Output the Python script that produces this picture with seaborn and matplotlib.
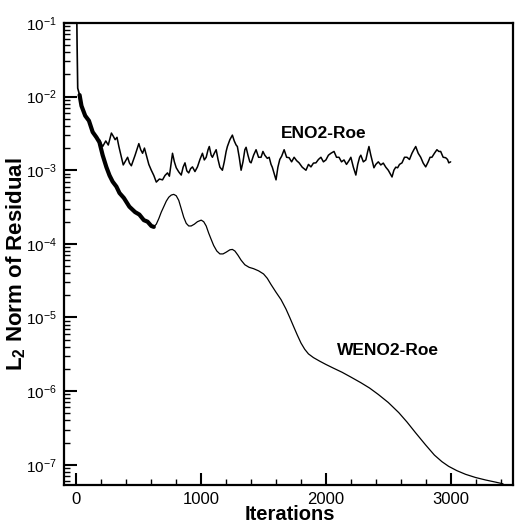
import numpy as np
import pandas as pd
import matplotlib
matplotlib.use("Agg")
import matplotlib.pyplot as plt
import matplotlib.ticker as mticker
import seaborn as sns

# common start: steep initial drop (thin)
start_iter = [0, 5, 10, 25]
start_res = [0.3, 0.05, 0.013, 0.0105]

# WENO2-Roe, noisy start (drawn as a thick band)
weno_noisy_iter = [25, 40, 70, 100, 130, 160, 184, 210, 240, 265, 290,
                   320, 345, 380, 424, 470, 504, 540, 570, 600, 620]
weno_noisy_res = [0.0105, 0.0075, 0.0055, 0.0047, 0.0033, 0.0028,
                  0.0024, 0.0016, 0.0011, 8.5e-4, 7e-4, 6e-4, 4.9e-4, 4.2e-4, 3.2e-4,
                  2.7e-4, 2.5e-4, 2.1e-4, 2.0e-4, 1.75e-4, 1.7e-4]

# WENO2-Roe, smooth part
weno_iter = [620, 640, 660, 680, 700, 720, 740, 760, 780, 800, 820, 840, 860, 880,
             900, 920, 945, 970, 1000, 1020, 1040, 1060, 1080, 1100, 1125, 1150, 1175,
             1200, 1230, 1250, 1270, 1295, 1320, 1350, 1384, 1420, 1460, 1500, 1530,
             1560, 1600, 1640, 1680, 1710, 1740, 1770, 1800, 1830, 1860, 1900, 1950,
             2000, 2060, 2130, 2200, 2280, 2350, 2420, 2500, 2584, 2650, 2720, 2800,
             2870, 2930, 2984, 3050, 3120, 3200, 3280, 3360, 3420]
weno_res = [1.7e-4, 1.85e-4, 2.2e-4, 2.7e-4, 3.2e-4, 3.8e-4, 4.3e-4, 4.6e-4, 4.7e-4,
            4.5e-4, 3.9e-4, 3.0e-4, 2.3e-4, 1.9e-4, 1.75e-4, 1.75e-4, 1.85e-4, 2.0e-4,
            2.1e-4, 2.0e-4, 1.75e-4, 1.4e-4, 1.15e-4, 9.5e-5, 8e-5, 7.3e-5, 7.3e-5,
            7.7e-5, 8.3e-5, 8.4e-5, 8.0e-5, 7.0e-5, 6.0e-5, 5.2e-5, 4.8e-5, 4.6e-5,
            4.3e-5, 3.9e-5, 3.4e-5, 2.8e-5, 2.2e-5, 1.75e-5, 1.3e-5, 1.0e-5, 7.6e-6,
            5.8e-6, 4.5e-6, 3.7e-6, 3.2e-6, 2.85e-6, 2.55e-6, 2.3e-6, 2.05e-6, 1.8e-6,
            1.55e-6, 1.3e-6, 1.1e-6, 9e-7, 7e-7, 5.1e-7, 3.8e-7, 2.7e-7, 1.85e-7,
            1.35e-7, 1.1e-7, 9.5e-8, 8.3e-8, 7.4e-8, 6.7e-8, 6.2e-8, 5.8e-8, 5.5e-8]

# ENO2-Roe (branches off the common band near 184 iterations)
eno_iter = [184, 210, 235, 255, 280, 295, 310, 325, 340, 360, 375, 395, 410, 425, 440,
            470, 500, 515, 530, 545, 560, 580, 600, 620, 640, 665, 690, 710, 730, 745,
            760, 770, 785, 800, 820, 840, 855, 870, 885, 900, 915, 930, 950, 970, 990,
            1010, 1025, 1040, 1055, 1065, 1080, 1090, 1105, 1120, 1135, 1150, 1170,
            1185, 1200, 1210, 1230, 1250, 1265, 1280, 1290, 1305, 1320, 1335, 1350,
            1360, 1375, 1390, 1400, 1420, 1440, 1460, 1480, 1495, 1510, 1530, 1545,
            1560, 1570, 1585, 1600, 1615, 1630, 1645, 1665, 1685, 1705, 1725, 1745,
            1765, 1785, 1810, 1840, 1860, 1880, 1900, 1920, 1940, 1960, 1980, 2000,
            2020, 2040, 2065, 2085, 2105, 2125, 2145, 2165, 2185, 2200, 2220, 2240,
            2255, 2270, 2280, 2300, 2320, 2335, 2345, 2360, 2385, 2400, 2420, 2440,
            2460, 2480, 2500, 2515, 2530, 2545, 2560, 2575, 2590, 2610, 2630, 2650,
            2670, 2690, 2705, 2720, 2740, 2760, 2780, 2800, 2820, 2835, 2850, 2870,
            2890, 2905, 2920, 2940, 2960, 2975, 2985, 3000]
eno_res = [2.6e-3, 2.1e-3, 2.5e-3, 2.2e-3, 3.2e-3, 2.9e-3, 2.6e-3, 2.8e-3, 2.1e-3,
           1.5e-3, 1.18e-3, 1.35e-3, 1.5e-3, 1.25e-3, 1.15e-3, 1.6e-3, 2.3e-3, 1.9e-3,
           1.7e-3, 2.0e-3, 1.6e-3, 1.2e-3, 1.0e-3, 8.5e-4, 6.9e-4, 7.6e-4, 7.4e-4,
           8.5e-4, 9.2e-4, 8.3e-4, 1.26e-3, 1.7e-3, 1.3e-3, 1.08e-3, 9.5e-4, 8.6e-4,
           1.1e-3, 1.26e-3, 9.8e-4, 9.2e-4, 1.05e-3, 1.11e-3, 9.6e-4, 1.11e-3, 1.4e-3,
           1.7e-3, 1.38e-3, 1.5e-3, 1.9e-3, 2.1e-3, 1.6e-3, 1.5e-3, 1.7e-3, 1.9e-3,
           1.4e-3, 1.1e-3, 1.0e-3, 1.3e-3, 1.8e-3, 2.1e-3, 2.6e-3, 3.0e-3, 2.5e-3,
           2.2e-3, 2.1e-3, 1.5e-3, 1.0e-3, 1.3e-3, 1.9e-3, 2.05e-3, 1.6e-3, 1.3e-3,
           1.26e-3, 1.6e-3, 1.9e-3, 1.5e-3, 1.5e-3, 1.8e-3, 1.6e-3, 1.45e-3, 1.5e-3,
           1.2e-3, 1.1e-3, 9e-4, 7.4e-4, 1.1e-3, 1.4e-3, 1.55e-3, 1.9e-3, 1.5e-3,
           1.48e-3, 1.3e-3, 1.5e-3, 1.35e-3, 1.26e-3, 1.1e-3, 1.0e-3, 1.2e-3, 1.11e-3,
           1.25e-3, 1.26e-3, 1.4e-3, 1.5e-3, 1.3e-3, 1.38e-3, 1.6e-3, 1.7e-3, 1.8e-3,
           1.5e-3, 1.5e-3, 1.3e-3, 1.38e-3, 1.2e-3, 1.35e-3, 1.5e-3, 1.1e-3, 8.6e-4,
           1.2e-3, 1.5e-3, 1.6e-3, 1.3e-3, 1.38e-3, 1.8e-3, 2.1e-3, 1.6e-3, 1.08e-3,
           1.2e-3, 1.3e-3, 1.18e-3, 1.25e-3, 1.1e-3, 1.0e-3, 9e-4, 8.1e-4, 1.0e-3,
           1.1e-3, 1.08e-3, 1.2e-3, 1.26e-3, 1.5e-3, 1.5e-3, 1.4e-3, 1.7e-3, 1.9e-3,
           2.1e-3, 1.7e-3, 1.5e-3, 1.25e-3, 1.11e-3, 1.3e-3, 1.5e-3, 1.5e-3, 1.7e-3,
           1.9e-3, 1.8e-3, 1.8e-3, 1.5e-3, 1.48e-3, 1.4e-3, 1.26e-3, 1.3e-3]

y_major = [1e-7, 1e-6, 1e-5, 1e-4, 1e-3, 1e-2, 1e-1]
x_major = [0, 1000, 2000, 3000]

sns.set_style("ticks", {"axes.edgecolor": "black", "xtick.color": "black",
                        "ytick.color": "black", "text.color": "black",
                        "axes.labelcolor": "black"})
plt.rcParams["font.family"] = ["Liberation Sans", "DejaVu Sans"]
plt.rcParams["mathtext.default"] = "regular"
plt.rcParams["axes.unicode_minus"] = False

fig = plt.figure(figsize=(5.18, 5.28), dpi=100)
ax = fig.add_axes([64 / 518, 1 - 485 / 528, 449 / 518, 462 / 528])

df_start = pd.DataFrame({"it": start_iter, "res": start_res})
df_noisy = pd.DataFrame({"it": weno_noisy_iter, "res": weno_noisy_res})
df_weno = pd.DataFrame({"it": weno_iter, "res": weno_res})
df_eno = pd.DataFrame({"it": eno_iter, "res": eno_res})

sns.lineplot(data=df_start, x="it", y="res", ax=ax, color="black", lw=1.2,
             sort=False, estimator=None)
sns.lineplot(data=df_noisy, x="it", y="res", ax=ax, color="black", lw=3.0,
             sort=False, estimator=None)
sns.lineplot(data=df_weno, x="it", y="res", ax=ax, color="black", lw=0.9,
             sort=False, estimator=None)
sns.lineplot(data=df_eno, x="it", y="res", ax=ax, color="black", lw=1.1,
             sort=False, estimator=None)

ax.set_yscale("log")
ax.set_xlim(-100, 3500)
ax.set_ylim(5.3e-8, 0.1)

ax.set_xticks(x_major)
ax.xaxis.set_minor_locator(mticker.MultipleLocator(200))
ax.set_yticks(y_major)
ax.yaxis.set_major_formatter(mticker.LogFormatterSciNotation())
ax.yaxis.set_minor_locator(mticker.LogLocator(base=10, subs=np.arange(2, 10), numticks=12))
ax.yaxis.set_minor_formatter(mticker.NullFormatter())

ax.tick_params(which="major", direction="in", length=9, width=1.5)
ax.tick_params(axis="y", which="major", pad=5, labelsize=11)
ax.tick_params(axis="x", which="major", pad=5, labelsize=12)
ax.tick_params(which="minor", direction="in", length=4.5, width=1.0)
for s in ax.spines.values():
    s.set_linewidth(1.6)
    s.set_visible(True)

ax.set_xlabel("Iterations", fontsize=14.5, fontweight="bold")
ax.set_ylabel(r"L$_2$ Norm of Residual", fontsize=16, fontweight="bold")
ax.xaxis.set_label_coords(0.503, -0.044)
ax.yaxis.set_label_coords(-0.080, 0.478)

ax.text(1984, 3.2e-3, "ENO2-Roe", fontsize=12.5, fontweight="bold",
        ha="center", va="center")
ax.text(2500, 3.6e-6, "WENO2-Roe", fontsize=12.5, fontweight="bold",
        ha="center", va="center")

fig.savefig("out.png", dpi=100)
